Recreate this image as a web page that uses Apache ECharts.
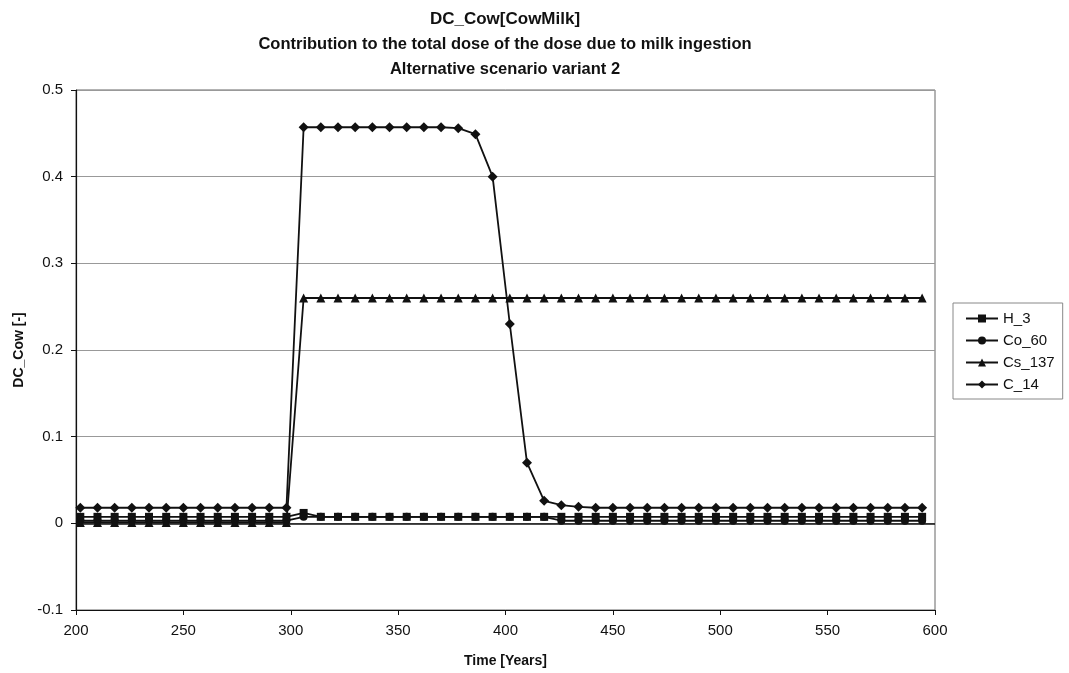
<!DOCTYPE html>
<html>
<head>
<meta charset="utf-8">
<title>DC_Cow[CowMilk]</title>
<script src="https://cdn.jsdelivr.net/npm/echarts@6/dist/echarts.min.js"></script>
<style>
  html, body { margin: 0; padding: 0; background: #fff; }
  #chart { width: 1069px; height: 673px; }
</style>
</head>
<body>
<div id="chart"></div>
<script>
// Simulation output times [years]
const years = [
  202, 210, 218, 226, 234, 242, 250, 258, 266, 274, 282, 290, 298,
  306, 314, 322, 330, 338, 346, 354, 362, 370, 378, 386, 394, 402,
  410, 418, 426, 434, 442, 450, 458, 466, 474, 482, 490, 498, 506,
  514, 522, 530, 538, 546, 554, 562, 570, 578, 586, 594
];

// Dose contribution fractions per nuclide
const h3 = [
  0.0075, 0.0075, 0.0075, 0.0075, 0.0075, 0.0075, 0.0075, 0.0075, 0.0075, 0.0075, 0.0075, 0.0075, 0.0075,
  0.012, 0.0075, 0.0075, 0.0075, 0.0075, 0.0075, 0.0075, 0.0075, 0.0075, 0.0075, 0.0075, 0.0075, 0.0075,
  0.0075, 0.0075, 0.0075, 0.0075, 0.0075, 0.0075, 0.0075, 0.0075, 0.0075, 0.0075, 0.0075, 0.0075, 0.0075,
  0.0075, 0.0075, 0.0075, 0.0075, 0.0075, 0.0075, 0.0075, 0.0075, 0.0075, 0.0075, 0.0075
];
const co60 = [
  0.003, 0.003, 0.003, 0.003, 0.003, 0.003, 0.003, 0.003, 0.003, 0.003, 0.003, 0.003, 0.003,
  0.0075, 0.0075, 0.0075, 0.0075, 0.0075, 0.0075, 0.0075, 0.0075, 0.0075, 0.0075, 0.0075, 0.0075, 0.0075,
  0.0075, 0.0075, 0.003, 0.003, 0.003, 0.003, 0.003, 0.003, 0.003, 0.003, 0.003, 0.003, 0.003,
  0.003, 0.003, 0.003, 0.003, 0.003, 0.003, 0.003, 0.003, 0.003, 0.003, 0.003
];
const cs137 = [
  0.001, 0.001, 0.001, 0.001, 0.001, 0.001, 0.001, 0.001, 0.001, 0.001, 0.001, 0.001, 0.001,
  0.26, 0.26, 0.26, 0.26, 0.26, 0.26, 0.26, 0.26, 0.26, 0.26, 0.26, 0.26, 0.26,
  0.26, 0.26, 0.26, 0.26, 0.26, 0.26, 0.26, 0.26, 0.26, 0.26, 0.26, 0.26, 0.26,
  0.26, 0.26, 0.26, 0.26, 0.26, 0.26, 0.26, 0.26, 0.26, 0.26, 0.26
];
const c14 = [
  0.018, 0.018, 0.018, 0.018, 0.018, 0.018, 0.018, 0.018, 0.018, 0.018, 0.018, 0.018, 0.018,
  0.457, 0.457, 0.457, 0.457, 0.457, 0.457, 0.457, 0.457, 0.457, 0.456, 0.449, 0.400, 0.230,
  0.070, 0.026, 0.021, 0.019, 0.018, 0.018, 0.018, 0.018, 0.018, 0.018, 0.018, 0.018, 0.018,
  0.018, 0.018, 0.018, 0.018, 0.018, 0.018, 0.018, 0.018, 0.018, 0.018, 0.018
];

const seriesNames = ['H_3', 'Co_60', 'Cs_137', 'C_14'];
const seriesValues = [h3, co60, cs137, c14];
const seriesSymbols = ['rect', 'circle', 'triangle', 'diamond'];
const seriesSymbolSizes = [8, 8, 9, 10];

const titleLines = [
  'DC_Cow[CowMilk]',
  'Contribution to the total dose of the dose due to milk ingestion',
  'Alternative scenario variant 2'
];
const titleSizes = [17, 16.5, 16.5];

const FONT = '"Liberation Sans", Arial, sans-serif';
const INK = '#111';

const chart = echarts.init(document.getElementById('chart'), null, { renderer: 'canvas' });

const series = seriesNames.map((name, i) => {
  const s = {
    name: name,
    type: 'line',
    data: years.map((t, k) => [t, seriesValues[i][k]]),
    symbol: seriesSymbols[i],
    symbolSize: seriesSymbolSizes[i],
    showAllSymbol: true,
    animation: false,
    lineStyle: { color: INK, width: 1.8 },
    itemStyle: { color: INK, borderColor: INK, borderWidth: 0 },
    emphasis: { disabled: true },
    z: 3 + i
  };
  if (i === 0) {
    // horizontal axis line crossing at zero
    s.markLine = {
      silent: true,
      symbol: 'none',
      label: { show: false },
      lineStyle: { color: INK, width: 1.6, type: 'solid' },
      data: [{ yAxis: 0 }],
      animation: false
    };
  }
  return s;
});

const option = {
  backgroundColor: '#fff',
  animation: false,
  textStyle: { fontFamily: FONT, color: INK },
  graphic: titleLines.map((line, i) => ({
    type: 'text',
    x: 505,
    y: 19 + i * 25,
    style: {
      text: line,
      textAlign: 'center',
      textVerticalAlign: 'middle',
      font: 'bold ' + titleSizes[i] + 'px ' + FONT,
      fill: INK
    }
  })),
  grid: {
    left: 76,
    right: 134,
    top: 90,
    bottom: 60,
    show: true,
    borderColor: '#666',
    borderWidth: 1,
    backgroundColor: '#fff'
  },
  legend: {
    orient: 'vertical',
    left: 953,
    top: 303,
    data: seriesNames,
    itemWidth: 32,
    itemHeight: 10,
    itemGap: 7,
    padding: [8, 8, 7, 12],
    borderColor: '#888',
    borderWidth: 1,
    backgroundColor: '#fff',
    selectedMode: false,
    textStyle: { fontFamily: FONT, fontSize: 15, color: INK, padding: [0, 0, 0, 0] }
  },
  xAxis: {
    type: 'value',
    min: 200,
    max: 600,
    interval: 50,
    name: 'Time [Years]',
    nameLocation: 'middle',
    nameGap: 44,
    nameTextStyle: { fontFamily: FONT, fontWeight: 'bold', fontSize: 14, color: INK },
    axisLine: { show: true, onZero: false, lineStyle: { color: INK, width: 1.2 } },
    axisTick: { show: true, inside: false, length: 5, lineStyle: { color: INK } },
    axisLabel: { fontFamily: FONT, fontSize: 15, color: INK, margin: 13 },
    splitLine: { show: false }
  },
  yAxis: {
    type: 'value',
    min: -0.1,
    max: 0.5,
    interval: 0.1,
    name: 'DC_Cow [-]',
    nameLocation: 'middle',
    nameGap: 49,
    nameTextStyle: { fontFamily: FONT, fontWeight: 'bold', fontSize: 14, color: INK },
    axisLine: { show: true, lineStyle: { color: INK, width: 1.2 } },
    axisTick: { show: true, inside: false, length: 5, lineStyle: { color: INK } },
    axisLabel: {
      fontFamily: FONT, fontSize: 15, color: INK, margin: 13,
      formatter: v => String(Math.round(v * 10) / 10)
    },
    splitLine: { show: true, lineStyle: { color: '#999', width: 1.2 } }
  },
  series: series
};

chart.setOption(option);
</script>
</body>
</html>
